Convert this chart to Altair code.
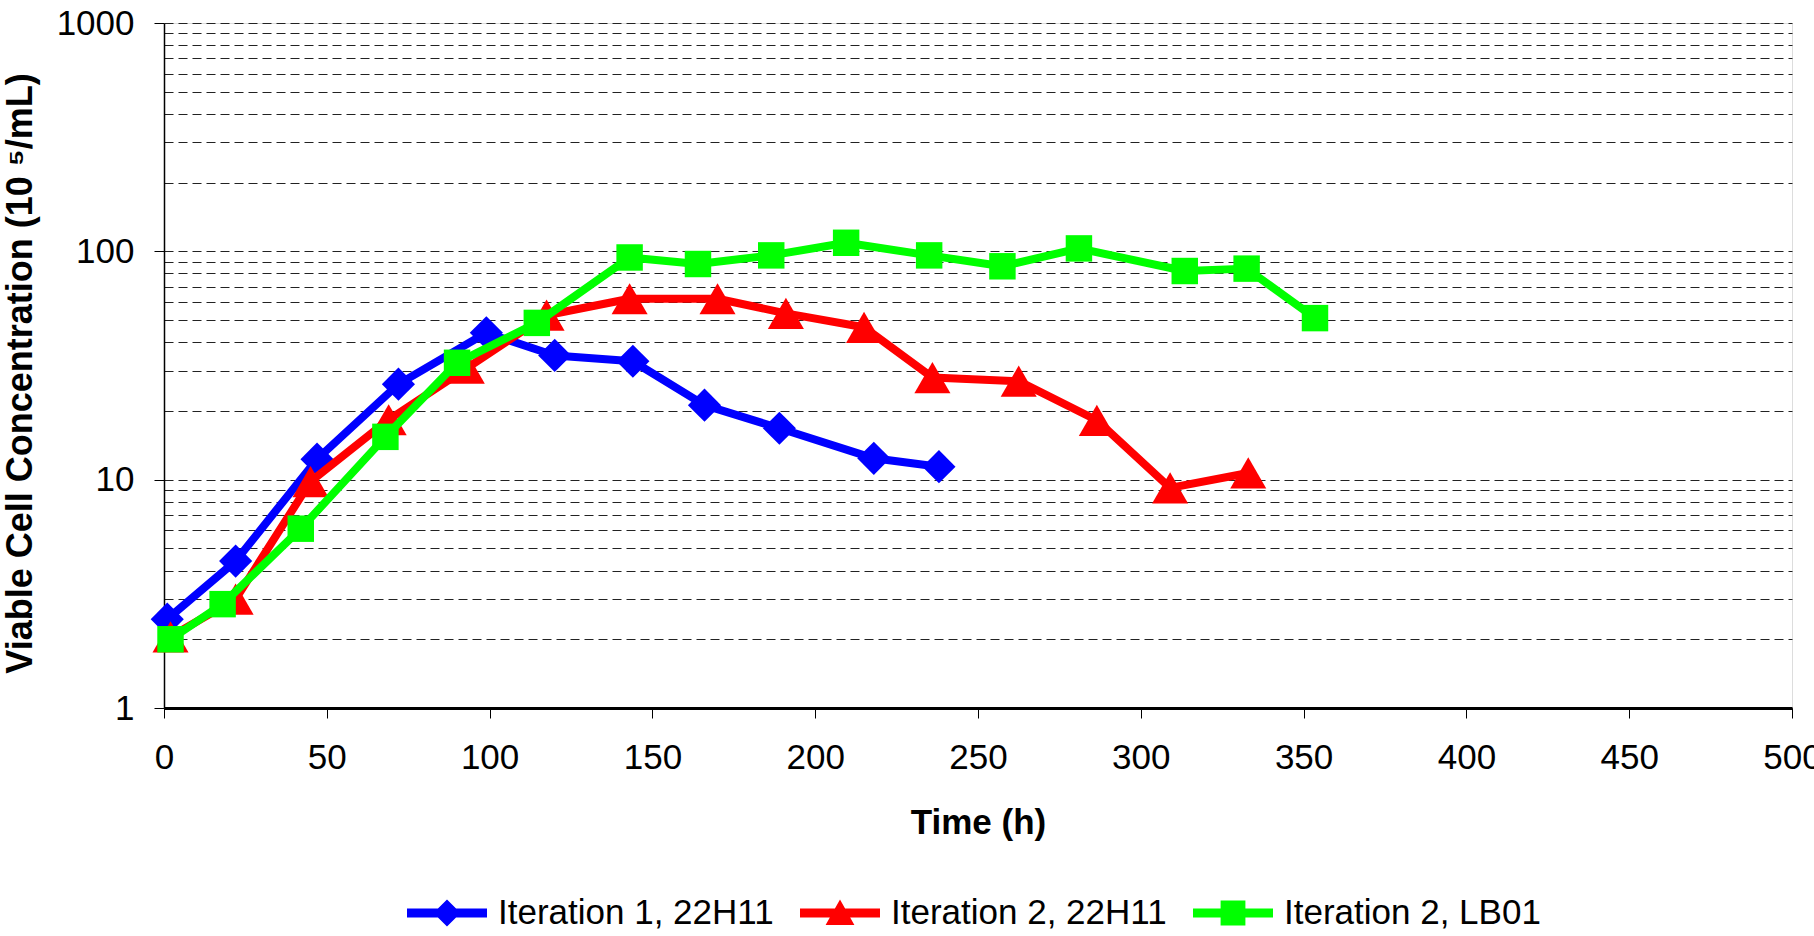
import altair as alt
import pandas as pd

# Series names, colours and marker shapes
series_names = ["Iteration 1, 22H11", "Iteration 2, 22H11", "Iteration 2, LB01"]
series_colors = ["#0000FF", "#FF0000", "#00FF00"]
series_shapes = ["diamond", "triangle-up", "square"]
series_sizes = [1100, 1300, 700]

# Time (h) and viable cell concentration (10^5/mL) for each run
iter1_22h11_time = [1, 22, 47, 72, 99, 120, 144, 166, 189, 218, 238]
iter1_22h11_vcc = [2.45, 4.4, 12.3, 26.2, 44, 35, 33, 21.2, 16.8, 12.4, 11.4]

iter2_22h11_time = [2, 22, 45, 69, 93, 117.5, 143, 170, 191, 215, 236, 262.5, 286.5, 309, 333]
iter2_22h11_vcc = [2.05, 3.0, 9.8, 18.3, 30.8, 52.5, 62, 62, 53.5, 46.5, 28, 27, 18.2, 9.2, 10.7]

iter2_lb01_time = [2, 18, 42, 68, 90, 114.5, 143, 164, 186.5, 209.5, 235, 257.5, 281, 313.5, 332.5, 353.5]
iter2_lb01_vcc = [2.0, 2.85, 6.1, 15.4, 32.5, 48.6, 94, 88, 96, 109, 96, 86, 103, 82, 84, 51]

# Axis tick values
x_ticks = list(range(0, 501, 50))
y_grid = [m * 10 ** e for e in range(0, 3) for m in range(1, 10)] + [1000]

# Legend symbols: a bar with the series marker on top (unit coordinates)
legend_paths = [
    "M-1,-0.11L1,-0.11L1,0.11L-1,0.11Z M-0.34,0L0,-0.34L0.34,0L0,0.34Z",
    "M-1,-0.11L1,-0.11L1,0.11L-1,0.11Z M0,-0.34L0.36,0.3L-0.36,0.3Z",
    "M-1,-0.11L1,-0.11L1,0.11L-1,0.11Z M-0.31,-0.31L0.31,-0.31L0.31,0.31L-0.31,0.31Z",
]

rows = []
for name, ts, vs in [
    (series_names[0], iter1_22h11_time, iter1_22h11_vcc),
    (series_names[1], iter2_22h11_time, iter2_22h11_vcc),
    (series_names[2], iter2_lb01_time, iter2_lb01_vcc),
]:
    for t, v in zip(ts, vs):
        rows.append({"series": name, "time": t, "vcc": v})
df = pd.DataFrame(rows)

FONT = "Liberation Sans"

x_enc = alt.X(
    "time:Q",
    scale=alt.Scale(domain=[0, 500], nice=False),
    axis=alt.Axis(
        values=x_ticks,
        title="Time (h)",
        grid=False,
        tickSize=10,
        tickColor="black",
        domainColor="black",
        domainWidth=3,
        labelFontSize=35,
        labelFont=FONT,
        labelColor="black",
        labelPadding=22,
        titleFontSize=35,
        titleFont=FONT,
        titleFontWeight="bold",
        titleColor="black",
        titlePadding=30,
        labelFlush=False,
    ),
)

major_test = "datum.value == 1 || datum.value == 10 || datum.value == 100 || datum.value == 1000"

y_enc = alt.Y(
    "vcc:Q",
    scale=alt.Scale(type="log", domain=[1, 1000], nice=False),
    axis=alt.Axis(
        values=y_grid,
        format="d",
        labelExpr="(" + major_test + ") ? datum.label : ''",
        title="Viable Cell Concentration (10 \u2075/mL)",
        grid=True,
        gridDash=[9, 5],
        gridColor="#222222",
        gridWidth=1.1,
        tickSize=10,
        tickColor="black",
        tickOpacity={"condition": {"test": major_test, "value": 1}, "value": 0},
        domainColor="black",
        domainWidth=1.5,
        labelFontSize=35,
        labelFont=FONT,
        labelColor="black",
        labelPadding=20,
        labelFlush=False,
        titleFontSize=36,
        titleFont=FONT,
        titleFontWeight="bold",
        titleColor="black",
        titlePadding=17,
        titleY=350,
    ),
)

base = alt.Chart(df)

layers = []
for name, color, shape, size in zip(series_names, series_colors, series_shapes, series_sizes):
    sub = base.transform_filter(alt.datum.series == name)
    line = sub.mark_line(strokeWidth=8, color=color, strokeJoin="round").encode(
        x=x_enc, y=y_enc, order="time:Q"
    )
    pts = sub.mark_point(shape=shape, filled=True, size=size, color=color, opacity=1).encode(
        x=x_enc, y=y_enc
    )
    layers += [line, pts]

legend_kw = dict(
    title=None,
    orient="none",
    legendX=243,
    legendY=850,
    direction="horizontal",
    symbolSize=6400,
    symbolStrokeWidth=0,
    symbolOpacity=1,
    labelFontSize=35,
    labelFont=FONT,
    labelColor="black",
    labelOffset=11,
    labelLimit=0,
    columnPadding=26,
    padding=0,
)

legend_layer = base.transform_filter("false").mark_point(filled=True, opacity=1).encode(
    x=alt.X("time:Q"),
    y=alt.Y("vcc:Q"),
    color=alt.Color(
        "series:N",
        scale=alt.Scale(domain=series_names, range=series_colors),
        legend=alt.Legend(**legend_kw),
    ),
    shape=alt.Shape(
        "series:N",
        scale=alt.Scale(domain=series_names, range=legend_paths),
        legend=alt.Legend(**legend_kw),
    ),
)
layers.append(legend_layer)

chart = (
    alt.layer(*layers)
    .properties(
        width=1628,
        height=685,
        autosize=alt.AutoSizeParams(type="none"),
        padding={"left": 164, "top": 23, "right": 22, "bottom": 228},
        background="white",
    )
    .configure_view(stroke="black", strokeWidth=1.5)
    .configure(font=FONT)
)

chart.save("out.html", embed_options={"renderer": "svg", "actions": False})
